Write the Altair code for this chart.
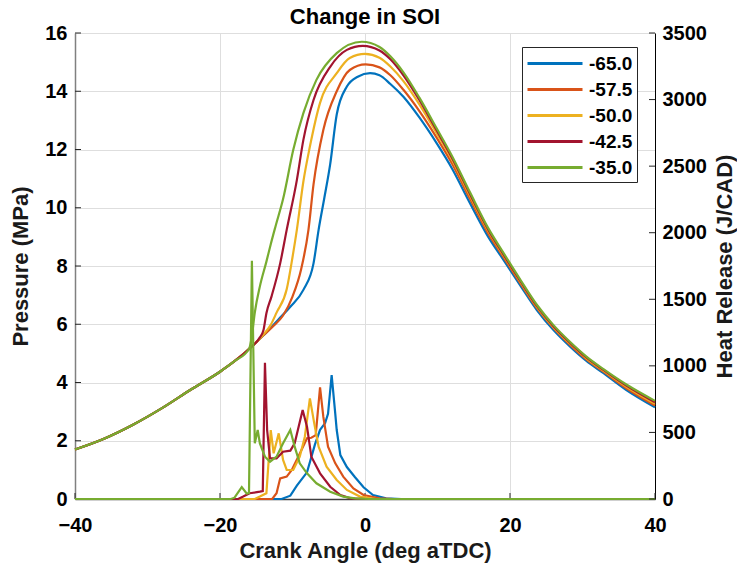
import altair as alt
import pandas as pd

soi_labels = ["-65.0", "-57.5", "-50.0", "-42.5", "-35.0"]
colors = ["#0072BD", "#D95319", "#EDB120", "#A2142F", "#77AC30"]

x_ticks = [-40, -20, 0, 20, 40]
p_ticks = [0, 2, 4, 6, 8, 10, 12, 14, 16]
hr_ticks = [0, 500, 1000, 1500, 2000, 2500, 3000, 3500]

# shared motoring (compression) part of the pressure traces
motor_ca = [-40, -36, -32, -28, -24, -20, -18, -16]
motor_p = [1.70, 2.07, 2.55, 3.12, 3.76, 4.37, 4.73, 5.15]

# pressure after combustion start, per SOI
p65_ca = [-14.0, -12.0, -10.3, -8.5, -7.1, -6.4, -5.6, -4.8, -3.9, -2.5, -1.0, 0.7,
          2.0, 3.5, 5.3, 7.5, 9.9, 12.0, 14.5, 17.0, 19.1, 21.5, 23.7, 26.0, 28.3, 30.5, 32.9, 36.0, 40.0]
p65_p = [5.62, 6.15, 6.60, 7.18, 8.09, 9.24, 10.35, 11.50, 13.20, 14.16, 14.50, 14.62,
         14.55, 14.25, 13.81, 13.10, 12.21, 11.35, 10.15, 9.00, 8.21, 7.30, 6.49, 5.80, 5.23, 4.75, 4.32, 3.75, 3.15]

p575_ca = [-14.0, -12.6, -11.3, -10.0, -8.8, -7.8, -7.1, -5.75, -3.9, -2.1, 0.1,
           2.0, 3.5, 5.3, 7.5, 9.9, 12.0, 14.5, 17.0, 19.1, 21.5, 23.7, 26.0, 28.3, 30.5, 32.9, 36.0, 40.0]
p575_p = [5.62, 5.95, 6.30, 6.95, 7.90, 9.24, 10.80, 12.67, 14.00, 14.73, 14.92,
          14.82, 14.55, 14.05, 13.32, 12.40, 11.52, 10.30, 9.12, 8.30, 7.38, 6.56, 5.87, 5.29, 4.80, 4.37, 3.81, 3.21]

p50_ca = [-14.0, -13.0, -12.2, -10.8, -10.0, -9.4, -8.5, -7.6, -6.2, -3.9, -2.1, 0.0,
          2.0, 3.5, 5.3, 7.5, 9.9, 12.0, 14.5, 17.0, 19.1, 21.5, 23.7, 26.0, 28.3, 30.5, 32.9, 36.0, 40.0]
p50_p = [5.65, 5.98, 6.40, 7.20, 8.30, 9.24, 10.90, 12.10, 13.60, 14.62, 15.14, 15.28,
         15.15, 14.85, 14.35, 13.55, 12.55, 11.65, 10.40, 9.20, 8.36, 7.43, 6.60, 5.90, 5.33, 4.84, 4.40, 3.86, 3.27]

p425_ca = [-14.5, -14.0, -13.6, -12.9, -11.7, -10.8, -9.4, -8.5, -7.1, -4.8, -2.5, -0.3,
           2.0, 3.5, 5.3, 7.5, 9.9, 12.0, 14.5, 17.0, 19.1, 21.5, 23.7, 26.0, 28.3, 30.5, 32.9, 36.0, 40.0]
p425_p = [5.55, 5.80, 6.38, 6.95, 8.09, 9.24, 10.95, 12.33, 13.70, 14.84, 15.42, 15.56,
          15.40, 15.10, 14.55, 13.70, 12.65, 11.72, 10.46, 9.25, 8.40, 7.46, 6.63, 5.93, 5.36, 4.87, 4.43, 3.90, 3.32]

p35_ca = [-15.6, -15.2, -14.5, -13.6, -13.0, -12.3, -11.3, -9.9, -8.5, -6.7, -3.9, -0.45,
          2.0, 3.5, 5.3, 7.5, 9.9, 12.0, 14.5, 17.0, 19.1, 21.5, 23.7, 26.0, 28.3, 30.5, 32.9, 36.0, 40.0]
p35_p = [5.60, 6.40, 7.30, 8.15, 8.75, 9.40, 10.30, 11.98, 13.25, 14.39, 15.31, 15.70,
         15.52, 15.20, 14.65, 13.78, 12.72, 11.78, 10.52, 9.30, 8.45, 7.50, 6.67, 5.97, 5.39, 4.90, 4.46, 3.94, 3.37]

# heat release rate, per SOI
hr65_ca = [-40, -11.5, -10.3, -9.4, -8.0, -6.9, -6.2, -5.5, -5.1, -4.6, -4.1, -3.9, -3.4, -2.5, -1.4, -0.2, 1.1, 2.9, 5.0, 40]
hr65_v = [0, 0, 25, 100, 200, 410, 520, 570, 640, 931, 640, 518, 330, 240, 165, 88, 30, 5, 0, 0]

hr575_ca = [-40, -12.8, -12.2, -11.7, -10.8, -10.1, -9.2, -8.0, -7.4, -6.8, -6.2, -5.75, -5.1, -4.1, -3.0, -1.6, -0.2, 2.0, 4.0, 40]
hr575_v = [0, 0, 43, 155, 168, 218, 318, 456, 460, 480, 838, 618, 393, 268, 168, 80, 30, 5, 0, 0]

hr50_ca = [-40, -15.2, -14.5, -13.6, -13.0, -12.6, -11.9, -11.3, -10.8, -9.9, -9.0, -8.3, -7.6, -7.0, -6.4, -5.3, -3.9, -2.5, -0.7, 1.5, 40]
hr50_v = [0, 0, 18, 43, 518, 343, 493, 293, 218, 218, 318, 468, 756, 568, 393, 243, 143, 68, 18, 0, 0]

hr425_ca = [-40, -17.5, -16.8, -15.9, -14.5, -14.1, -13.8, -13.5, -13.1, -12.2, -11.3, -10.3, -9.7, -8.6, -8.0, -7.4, -6.2, -4.8, -3.4, -2.0, 0.0, 40]
hr425_v = [0, 0, 18, 43, 55, 60, 1024, 518, 305, 305, 355, 363, 418, 668, 543, 318, 193, 92, 30, 5, 0, 0]

hr35_ca = [-40, -18.5, -18.0, -17.0, -16.3, -16.0, -15.6, -15.2, -14.8, -14.5, -13.8, -13.1, -12.2, -11.3, -10.3, -9.7, -9.0, -8.0, -6.7, -4.8, -3.0, -1.4, 0.5, 40]
hr35_v = [0, 0, 10, 90, 40, 45, 1790, 418, 518, 418, 318, 280, 318, 418, 518, 393, 268, 193, 118, 55, 18, 5, 0, 0]

p_series = [(p65_ca, p65_p), (p575_ca, p575_p), (p50_ca, p50_p), (p425_ca, p425_p), (p35_ca, p35_p)]
hr_series = [(hr65_ca, hr65_v), (hr575_ca, hr575_v), (hr50_ca, hr50_v), (hr425_ca, hr425_v), (hr35_ca, hr35_v)]

p_rows = []
for lab, (cas, ps) in zip(soi_labels, p_series):
    for c, v in zip(motor_ca + cas, motor_p + ps):
        p_rows.append({"soi": lab, "ca": c, "p": v})
p_df = pd.DataFrame(p_rows)

hr_rows = []
for lab, (cas, vs) in zip(soi_labels, hr_series):
    for c, v in zip(cas, vs):
        hr_rows.append({"soi": lab, "ca": c, "hr": v})
hr_df = pd.DataFrame(hr_rows)

FONT = "Liberation Sans"
TXT = "#1a1a1a"
W, H = 580, 466

xscale = alt.Scale(domain=[-40, 40], nice=False, zero=False)
pscale = alt.Scale(domain=[0, 16], nice=False)
hrscale = alt.Scale(domain=[0, 3500], nice=False)

legend = alt.Legend(
    title=None, orient="none", legendX=447, legendY=14,
    symbolType="M-1,0H4", symbolSize=484, symbolStrokeWidth=3,
    labelFontSize=19, labelFont=FONT, labelFontWeight="bold", labelColor="#000",
    labelOffset=38, padding=4, rowPadding=3,
    strokeColor="#262626", fillColor="white",
)
color = alt.Color("soi:N", scale=alt.Scale(domain=soi_labels, range=colors), legend=legend)

x_axis = alt.Axis(values=x_ticks, title="Crank Angle (deg aTDC)", grid=True, ticks=False, tickSize=0,
                  labelPadding=16, titlePadding=5, labelFlush=False,
                  domainColor="#404040", domainWidth=1.5)
p_axis = alt.Axis(values=p_ticks, title="Pressure (MPa)", orient="left",
                  grid=True, ticks=False, tickSize=0, labelPadding=8, labelFlush=False,
                  titlePadding=12, domainColor="#808080", domainWidth=1.5)
hr_axis = alt.Axis(values=hr_ticks, title="Heat Release (J/CAD)", orient="right",
                   grid=False, ticks=False, tickSize=0, labelPadding=7, labelFlush=False,
                   titlePadding=8, titleAngle=270, titleBaseline="top",
                   format="d", domainColor="#000", domainWidth=1)

p_lines = alt.Chart(p_df).mark_line(strokeWidth=2.2, interpolate="monotone").encode(
    x=alt.X("ca:Q", scale=xscale, axis=x_axis),
    y=alt.Y("p:Q", scale=pscale, axis=p_axis),
    color=color,
    detail="soi:N",
)

xt = alt.Chart(pd.DataFrame({"ca": x_ticks})).mark_rule(color="#262626", strokeWidth=1).encode(
    x=alt.X("ca:Q", scale=xscale, axis=x_axis), y=alt.value(H), y2=alt.value(H - 6))
lt = alt.Chart(pd.DataFrame({"p": p_ticks})).mark_rule(color="#262626", strokeWidth=1).encode(
    y=alt.Y("p:Q", scale=pscale, axis=p_axis), x=alt.value(0), x2=alt.value(6))

hr_lines = alt.Chart(hr_df).mark_line(strokeWidth=2.2).encode(
    x=alt.X("ca:Q", scale=xscale, axis=x_axis),
    y=alt.Y("hr:Q", scale=hrscale, axis=hr_axis),
    color=color,
    detail="soi:N",
)
rt = alt.Chart(pd.DataFrame({"hr": hr_ticks})).mark_rule(color="#262626", strokeWidth=1).encode(
    y=alt.Y("hr:Q", scale=hrscale, axis=hr_axis), x=alt.value(W), x2=alt.value(W - 6))

left = alt.layer(p_lines, xt, lt)
right = alt.layer(hr_lines, rt)

chart = alt.layer(left, right).resolve_scale(y="independent").properties(
    width=W, height=H,
    title=alt.TitleParams("Change in SOI", fontSize=22, font=FONT, fontWeight="bold", color="#000",
                          offset=6, frame="group", dy=12),
    autosize=alt.AutoSizeParams(type="none"),
    padding={"left": 67, "top": 25, "right": 82, "bottom": 65},
).configure_view(stroke=None).configure_axis(
    labelFont=FONT, labelFontSize=20, labelFontWeight="bold", labelColor="#000",
    titleFont=FONT, titleFontSize=22, titleFontWeight="bold", titleColor=TXT,
    gridColor="#dedede", gridWidth=1,
)

chart.save("out.html", embed_options={"renderer": "svg", "actions": False})
